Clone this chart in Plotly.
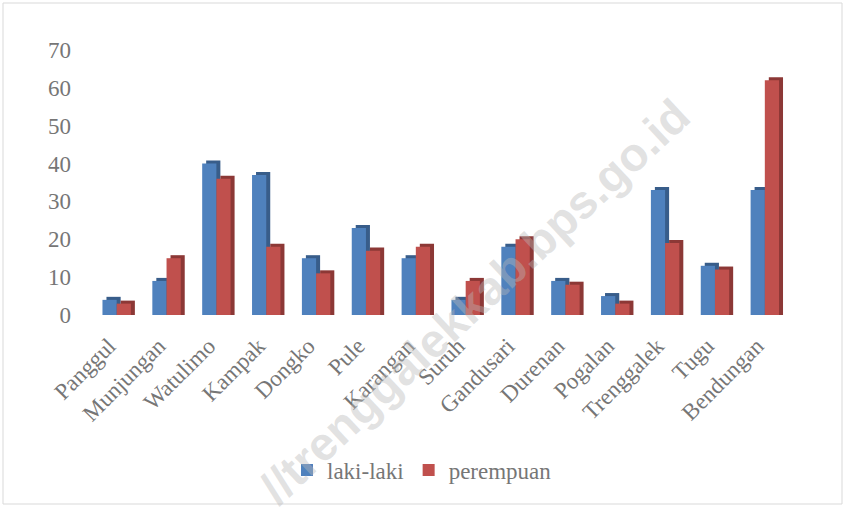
import plotly.graph_objects as go

categories = ["Panggul", "Munjungan", "Watulimo", "Kampak", "Dongko", "Pule", "Karangan",
              "Suruh", "Gandusari", "Durenan", "Pogalan", "Trenggalek", "Tugu", "Bendungan"]
laki_laki = [4, 9, 40, 37, 15, 23, 15, 4, 18, 9, 5, 33, 13, 33]
perempuan = [3, 15, 36, 18, 11, 17, 18, 9, 20, 8, 3, 19, 12, 62]
y_ticks = [0, 10, 20, 30, 40, 50, 60, 70]

W, H = 845, 507
ML, MR, MT, MB = 92, 55, 50, 192
PW, PH = W - ML - MR, H - MT - MB


def px_x(x):
    return (x - ML) / PW


def px_y(y):
    return (H - MB - y) / PH


BLUE, BLUE_D = "#4f81bd", "#385d8a"
RED, RED_D = "#c0504d", "#8c3836"
DEPTH_X, DEPTH_Y = 0.08, 0.8
BW = 0.285

fig = go.Figure()
for vals, name, c, cd, off in [(laki_laki, "laki-laki", BLUE, BLUE_D, -0.29),
                               (perempuan, "perempuan", RED, RED_D, -0.005)]:
    fig.add_trace(go.Bar(x=categories, y=[v + DEPTH_Y for v in vals], offset=off + DEPTH_X,
                         width=BW, marker=dict(color=cd, line=dict(width=0)),
                         showlegend=False, hoverinfo="skip"))
    fig.add_trace(go.Bar(x=categories, y=vals, offset=off, width=BW, name=name,
                         marker=dict(color=c, line=dict(width=0))))

font_family = "Liberation Serif, Times New Roman, serif"
fig.update_layout(
    width=W, height=H, barmode="overlay",
    margin=dict(l=ML, r=MR, t=MT, b=MB, autoexpand=False),
    paper_bgcolor="white", plot_bgcolor="white",
    font=dict(family=font_family, size=23, color="#767676"),
    xaxis=dict(range=[-0.5, 13.5], tickangle=-45, showgrid=False, showline=False,
               zeroline=False, ticks="", automargin=False,
               ticklabelstandoff=12, ticklabelshift=-8,
               tickfont=dict(size=23, color="#767676")),
    yaxis=dict(range=[0, 70], tickvals=y_ticks, showgrid=False, showline=False,
               zeroline=False, ticks="", ticklabelstandoff=20, automargin=False,
               tickfont=dict(size=23, color="#767676")),
    legend=dict(orientation="h", x=px_x(422), xanchor="center", y=px_y(470), yanchor="middle",
                font=dict(size=23, color="#767676"), itemwidth=30, traceorder="normal"),
    shapes=[dict(type="rect", xref="paper", yref="paper",
                 x0=px_x(3), x1=px_x(842), y0=px_y(504), y1=px_y(3),
                 line=dict(color="#d9d9d9", width=1), layer="below")],
    annotations=[dict(text="//trenggalekkab.bps.go.id", xref="paper", yref="paper",
                      x=px_x(474), y=px_y(301), xanchor="center", yanchor="middle",
                      showarrow=False, textangle=-43,
                      font=dict(family="Liberation Sans, Arial, sans-serif", size=47,
                                color="rgba(185,185,185,0.42)", weight="bold"))],
)

fig.write_html("out.html", config={"displayModeBar": False},
               post_script="document.body.style.margin='0';document.body.style.overflow='hidden';")
